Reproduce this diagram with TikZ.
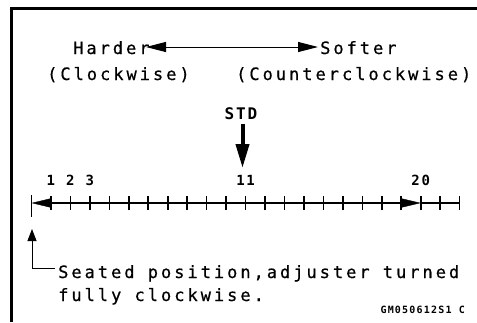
\documentclass[tikz,border=0pt]{standalone}
\usepackage{fontspec}
\usetikzlibrary{arrows.meta}
\newfontfamily\mainf[LetterSpace=17.6,FakeBold=0.6]{DejaVu Sans Mono}
\newfontfamily\boldf[LetterSpace=12]{DejaVu Sans Mono Bold}
\newfontfamily\codef[LetterSpace=12]{DejaVu Sans Mono Bold}
\begin{document}
\begin{tikzpicture}[x=1pt,y=-1pt,
  txt/.style={inner sep=0pt,anchor=base west,font=\mainf\fontsize{17}{20}\selectfont},
  num/.style={inner sep=0pt,anchor=base,font=\boldf\fontsize{14}{16}\selectfont},
  tk/.style={line width=1.6pt},
]
\useasboundingbox (0,0) rectangle (477,322);
% frame
\draw[line width=2.2pt] (11.5,322) -- (11.5,8.5) -- (477,8.5);
% top labels
\node[txt] (harder) at (73,54) {Harder};
\node[txt] (softer) at (320,54) {Softer};
\node[txt] (cw) at (47,80) {(Clockwise)};
\node[txt] (ccw) at (236,80) {(Counterclockwise)};
\coordinate (hl) at (146,47);
\coordinate (sl) at (318,47);
\draw[line width=1pt,{Triangle[length=20pt,width=10pt]}-{Triangle[length=20pt,width=10pt]}] (hl) -- (sl);
% STD
\node[inner sep=0pt,anchor=base,font=\boldf\fontsize{16}{18}\selectfont] (std) at (241,119) {STD};
\coordinate (stdtop) at (242.5,124);
\coordinate (stdtip) at (242.5,168);
\draw[line width=4pt,-{Triangle[length=24pt,width=13pt]}] (stdtop) -- (stdtip);
% axis
\foreach \i in {0,...,22} {
  \coordinate (t\i) at ({31.5+19.46*\i},203);
}
\draw[line width=1.1pt] (t1) -- (t19);
\draw[line width=1.1pt] (t20) -- (t22);
\foreach \i in {1,...,22} {
  \draw[tk] ([yshift=-7pt]t\i) -- ([yshift=7pt]t\i);
}
\draw[tk] ([yshift=8pt]t0) -- ([yshift=-14pt]t0);
\draw[-{Triangle[length=19pt,width=9pt]}] (t1) -- (t0);
\draw[-{Triangle[length=19pt,width=9pt]}] (t19) -- (t20);
% numbers
\foreach \i in {1,2,3,11,20} {
  \node[num] (n\i) at ([yshift=18pt]t\i) {\i};
}
% seated arrow
\coordinate (seattip) at (32,229);
\coordinate (seatcorner) at (32,268);
\coordinate (seatend) at (55,268);
\draw[line width=0.9pt,{Triangle[length=12pt,width=9pt]}-] (seattip) -- (seatcorner) -- (seatend);
\node[txt] (seated) at (58,278) {Seated position,adjuster turned};
\node[txt] (fully) at (58,301) {fully clockwise.};
\node[inner sep=0pt,anchor=base east,font=\codef\fontsize{10}{12}\selectfont] (code) at (465,313) {GM050612S1 C};
\end{tikzpicture}
\end{document}
